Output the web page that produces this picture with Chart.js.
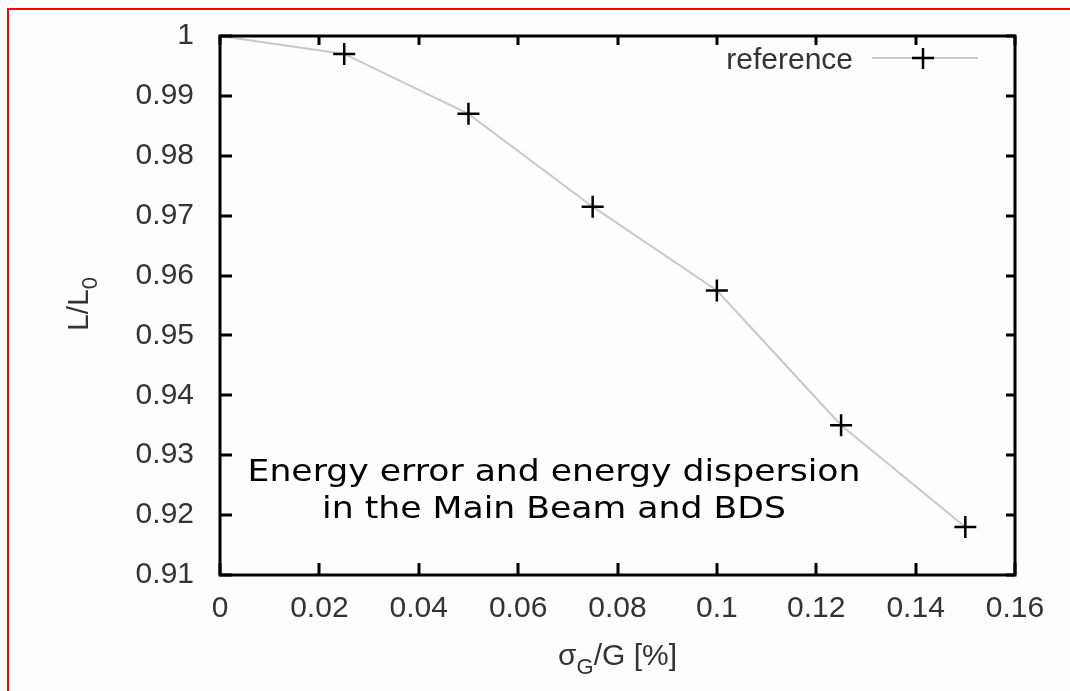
<!DOCTYPE html>
<html>
<head>
<meta charset="utf-8">
<script src="https://cdn.jsdelivr.net/npm/chart.js@4/dist/chart.umd.min.js"></script>
<style>
  html, body { margin: 0; padding: 0; background: #fdfdfd; overflow: hidden; }
  .frame { position: absolute; left: 7px; top: 8px; width: 1100px; height: 720px; border: 2px solid #ff0000; }
  .wrap { position: absolute; left: 0; top: 0; width: 1070px; height: 691px; }
</style>
</head>
<body>
<div class="frame"></div>
<div class="wrap"><canvas id="chart" width="1070" height="691"></canvas></div>
<script>
const sigmaG = [0, 0.025, 0.05, 0.075, 0.1, 0.125, 0.15];
const lumi = [1, 0.997, 0.987, 0.9715, 0.9575, 0.935, 0.918];
const seriesName = "reference";
const note = ["Energy error and energy dispersion", "in the Main Beam and BDS"];

const tickFont = { family: "Liberation Sans", size: 30 };
const fmt = (v) => String(parseFloat(Number(v).toFixed(2)));

// box, inward ticks, axis titles, legend and note
const decor = {
  id: "decor",
  afterDraw(chart) {
    const { ctx, chartArea: a, scales: { x, y } } = chart;
    ctx.save();
    ctx.strokeStyle = "#000";
    ctx.lineWidth = 3;
    ctx.beginPath();
    x.ticks.forEach((t) => {
      const px = Math.round(x.getPixelForValue(t.value));
      ctx.moveTo(px, a.bottom); ctx.lineTo(px, a.bottom - 12);
      ctx.moveTo(px, a.top); ctx.lineTo(px, a.top + 9);
    });
    y.ticks.forEach((t) => {
      const py = Math.round(y.getPixelForValue(t.value));
      ctx.moveTo(a.left, py); ctx.lineTo(a.left + 12, py);
      ctx.moveTo(a.right, py); ctx.lineTo(a.right - 9, py);
    });
    ctx.stroke();
    ctx.strokeRect(a.left, a.top, a.right - a.left, a.bottom - a.top);

    // legend
    const ds = chart.data.datasets[0];
    ctx.fillStyle = "#333";
    ctx.font = "30px 'Liberation Sans'";
    ctx.textAlign = "right";
    ctx.textBaseline = "alphabetic";
    ctx.fillText(ds.label, 853, 69);
    ctx.strokeStyle = ds.borderColor;
    ctx.lineWidth = ds.borderWidth;
    ctx.beginPath(); ctx.moveTo(872, 58); ctx.lineTo(978, 58); ctx.stroke();
    ctx.strokeStyle = ds.pointBorderColor;
    ctx.lineWidth = ds.pointBorderWidth;
    ctx.beginPath();
    ctx.moveTo(912, 58); ctx.lineTo(934, 58);
    ctx.moveTo(923, 48); ctx.lineTo(923, 69);
    ctx.stroke();

    // x title: sigma_G/G [%]
    const cx = (a.left + a.right) / 2;
    ctx.fillStyle = "#333";
    ctx.textAlign = "left";
    const p1 = "σ", p3 = "/G [%]";
    ctx.font = "22px 'Liberation Sans'";
    const wSub = ctx.measureText("G").width;
    ctx.font = "30px 'Liberation Sans'";
    const w1 = ctx.measureText(p1).width, w3 = ctx.measureText(p3).width;
    const sx = cx - (w1 + wSub + w3) / 2;
    ctx.fillText(p1, sx, 665);
    ctx.font = "22px 'Liberation Sans'";
    ctx.fillText("G", sx + w1, 674);
    ctx.font = "30px 'Liberation Sans'";
    ctx.fillText(p3, sx + w1 + wSub, 665);

    // y title: L/L_0
    ctx.save();
    ctx.translate(88, 304);
    ctx.rotate(-Math.PI / 2);
    ctx.font = "30px 'Liberation Sans'";
    const wl = ctx.measureText("L/L").width;
    ctx.font = "22px 'Liberation Sans'";
    const w0 = ctx.measureText("0").width;
    const ty = -(wl + w0) / 2;
    ctx.font = "30px 'Liberation Sans'";
    ctx.fillText("L/L", ty, 0);
    ctx.font = "22px 'Liberation Sans'";
    ctx.fillText("0", ty + wl, 9);
    ctx.restore();

    // note, stretched to the width of the original lettering
    ctx.fillStyle = "#000";
    ctx.textAlign = "center";
    ctx.font = "31px 'DejaVu Sans'";
    const sc = 613 / ctx.measureText(note[0]).width;
    ctx.save();
    ctx.translate(554, 0);
    ctx.scale(sc, 1);
    ctx.fillText(note[0], 0, 481);
    ctx.fillText(note[1], 0, 518);
    ctx.restore();
    ctx.restore();
  }
};

new Chart(document.getElementById("chart"), {
  type: "line",
  data: {
    labels: sigmaG,
    datasets: [{
      label: seriesName,
      data: sigmaG.map((v, i) => ({ x: v, y: lumi[i] })),
      borderColor: "#c8c8c8",
      borderWidth: 2,
      tension: 0,
      pointStyle: "cross",
      pointRadius: (c) => (c.dataIndex === 0 ? 0 : 11),
      pointHoverRadius: (c) => (c.dataIndex === 0 ? 0 : 11),
      pointBorderColor: "#000",
      pointBorderWidth: 2.5,
      pointBackgroundColor: "#000"
    }]
  },
  options: {
    responsive: false,
    animation: false,
    events: [],
    layout: { padding: { left: 0, top: 34, right: 55, bottom: 0 } },
    plugins: { legend: { display: false }, tooltip: { enabled: false } },
    scales: {
      x: {
        type: "linear",
        min: 0, max: 0.16,
        grid: { display: false },
        border: { display: false },
        ticks: { stepSize: 0.02, color: "#333", font: tickFont, padding: 8, maxRotation: 0, callback: fmt },
        afterFit: (s) => { s.height = 116; }
      },
      y: {
        min: 0.91, max: 1,
        grid: { display: false },
        border: { display: false },
        ticks: { stepSize: 0.01, color: "#333", font: tickFont, padding: 18, callback: fmt },
        afterFit: (s) => { s.width = 220; }
      }
    }
  },
  plugins: [decor]
});
</script>
</body>
</html>
